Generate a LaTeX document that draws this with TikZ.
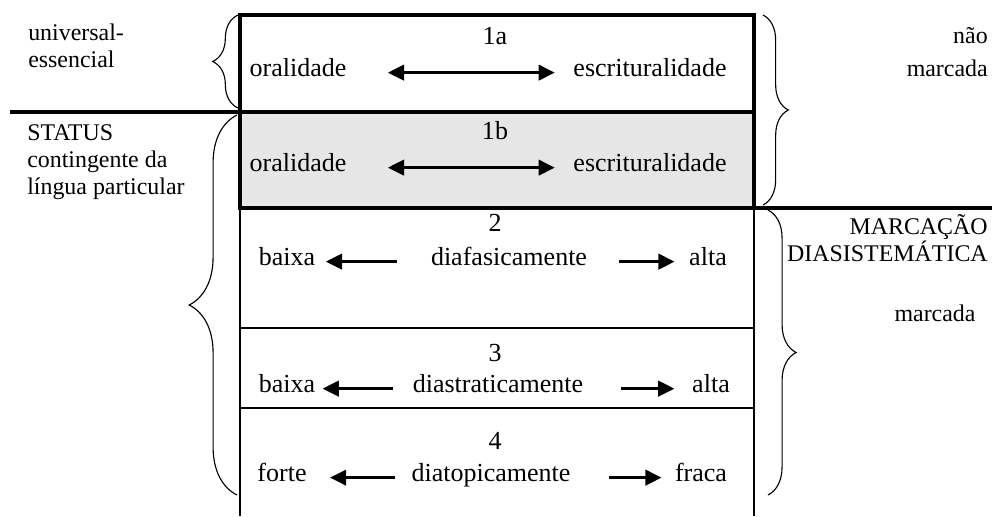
\documentclass[tikz,border=0pt]{standalone}
\usepackage{fontspec}
\setmainfont{Liberation Serif}
\usetikzlibrary{arrows.meta,decorations.pathreplacing}
\definecolor{boxgray}{RGB}{230,230,230}

\begin{document}
\begin{tikzpicture}[x=0.025cm,y=-0.025cm,
    thickline/.style={line width=2.4pt},
    thinline/.style={line width=0.9pt},
    txt/.style={inner sep=0pt,anchor=base,font=\fontsize{18.5}{20}\selectfont,text height=0.68em,text depth=0.2em},
    lbl/.style={inner sep=0pt,font=\fontsize{17}{19.2}\selectfont},
    arr/.style={line width=1.9pt,-{Triangle[length=11.5pt,width=11pt]}},
    darr/.style={line width=1.9pt,{Triangle[length=11.5pt,width=11pt]}-{Triangle[length=11.5pt,width=11pt]}},
    curly/.style={line width=0.8pt,decorate,decoration={brace,amplitude=#1}}]
  \useasboundingbox (0,0) rectangle (992,516);
  % boxes
  \fill[boxgray] (240,112) rectangle (754,208);
  \draw[thinline] (240,208) -- (240,516) (754,208) -- (754,516);
  \draw[thinline] (240,328) -- (754,328) (240,408) -- (754,408);
  \draw[thickline] (240,15) rectangle (754,208);
  \draw[thickline] (10,112) -- (754,112);
  \draw[thickline] (240,208) -- (992,208);
  % braces
  \draw[curly=18pt] (238,108) -- (238,15);
  \draw[curly=34pt] (237,495) -- (237,115);
  \draw[curly=18pt] (763,15) -- (763,205);
  \draw[curly=20pt] (768,210) -- (768,495);
  % side labels
  \node[lbl,anchor=north west,align=left] (universal) at (28,24) {universal-\\essencial};
  \node[lbl,anchor=north west,align=left] (status) at (27,124) {STATUS\\contingente da\\língua particular};
  \node[lbl,anchor=north east,align=right] (naomarcada) at (988,27) {não\\[4pt]marcada};
  \node[lbl,anchor=north east,align=right] (marcacao) at (988,214) {MARCAÇÃO\\DIASISTEMÁTICA};
  \node[lbl,anchor=north] (marcada) at (935,305) {marcada};
  % row 1a
  \node[txt] (num1a) at (495,44) {1a};
  \node[txt] (oral1a) at (298,76) {oralidade};
  \node[txt] (escr1a) at (650,76) {escrituralidade};
  \draw[darr,shorten <=1.03cm,shorten >=0.46cm] (oral1a) -- (escr1a);
  % row 1b
  \node[txt] (num1b) at (495,139) {1b};
  \node[txt] (oral1b) at (298,171) {oralidade};
  \node[txt] (escr1b) at (650,171) {escrituralidade};
  \draw[darr,shorten <=1.03cm,shorten >=0.46cm] (oral1b) -- (escr1b);
  % row 2
  \node[txt] (num2) at (495,231) {2};
  \node[txt] (baixa2) at (287,265) {baixa};
  \node[txt] (fasica) at (509,265) {diafasicamente};
  \node[txt] (alta2) at (708,265) {alta};
  \draw[arr,shorten <=0.85cm,shorten >=0.26cm] (fasica) -- (baixa2);
  \draw[arr,shorten <=0.8cm,shorten >=0.36cm] (fasica) -- (alta2);
  % row 3
  \node[txt] (num3) at (495,361) {3};
  \node[txt] (baixa3) at (287,392) {baixa};
  \node[txt] (stratica) at (498,392) {diastraticamente};
  \node[txt] (alta3) at (711,392) {alta};
  \draw[arr,shorten <=0.49cm,shorten >=0.18cm] (stratica) -- (baixa3);
  \draw[arr,shorten <=0.93cm,shorten >=0.44cm] (stratica) -- (alta3);
  % row 4
  \node[txt] (num4) at (495,449) {4};
  \node[txt] (forte) at (282,481) {forte};
  \node[txt] (topica) at (491,481) {diatopicamente};
  \node[txt] (fraca) at (701,481) {fraca};
  \draw[arr,shorten <=0.4cm,shorten >=0.58cm] (topica) -- (forte);
  \draw[arr,shorten <=0.95cm,shorten >=0.33cm] (topica) -- (fraca);
\end{tikzpicture}
\end{document}
